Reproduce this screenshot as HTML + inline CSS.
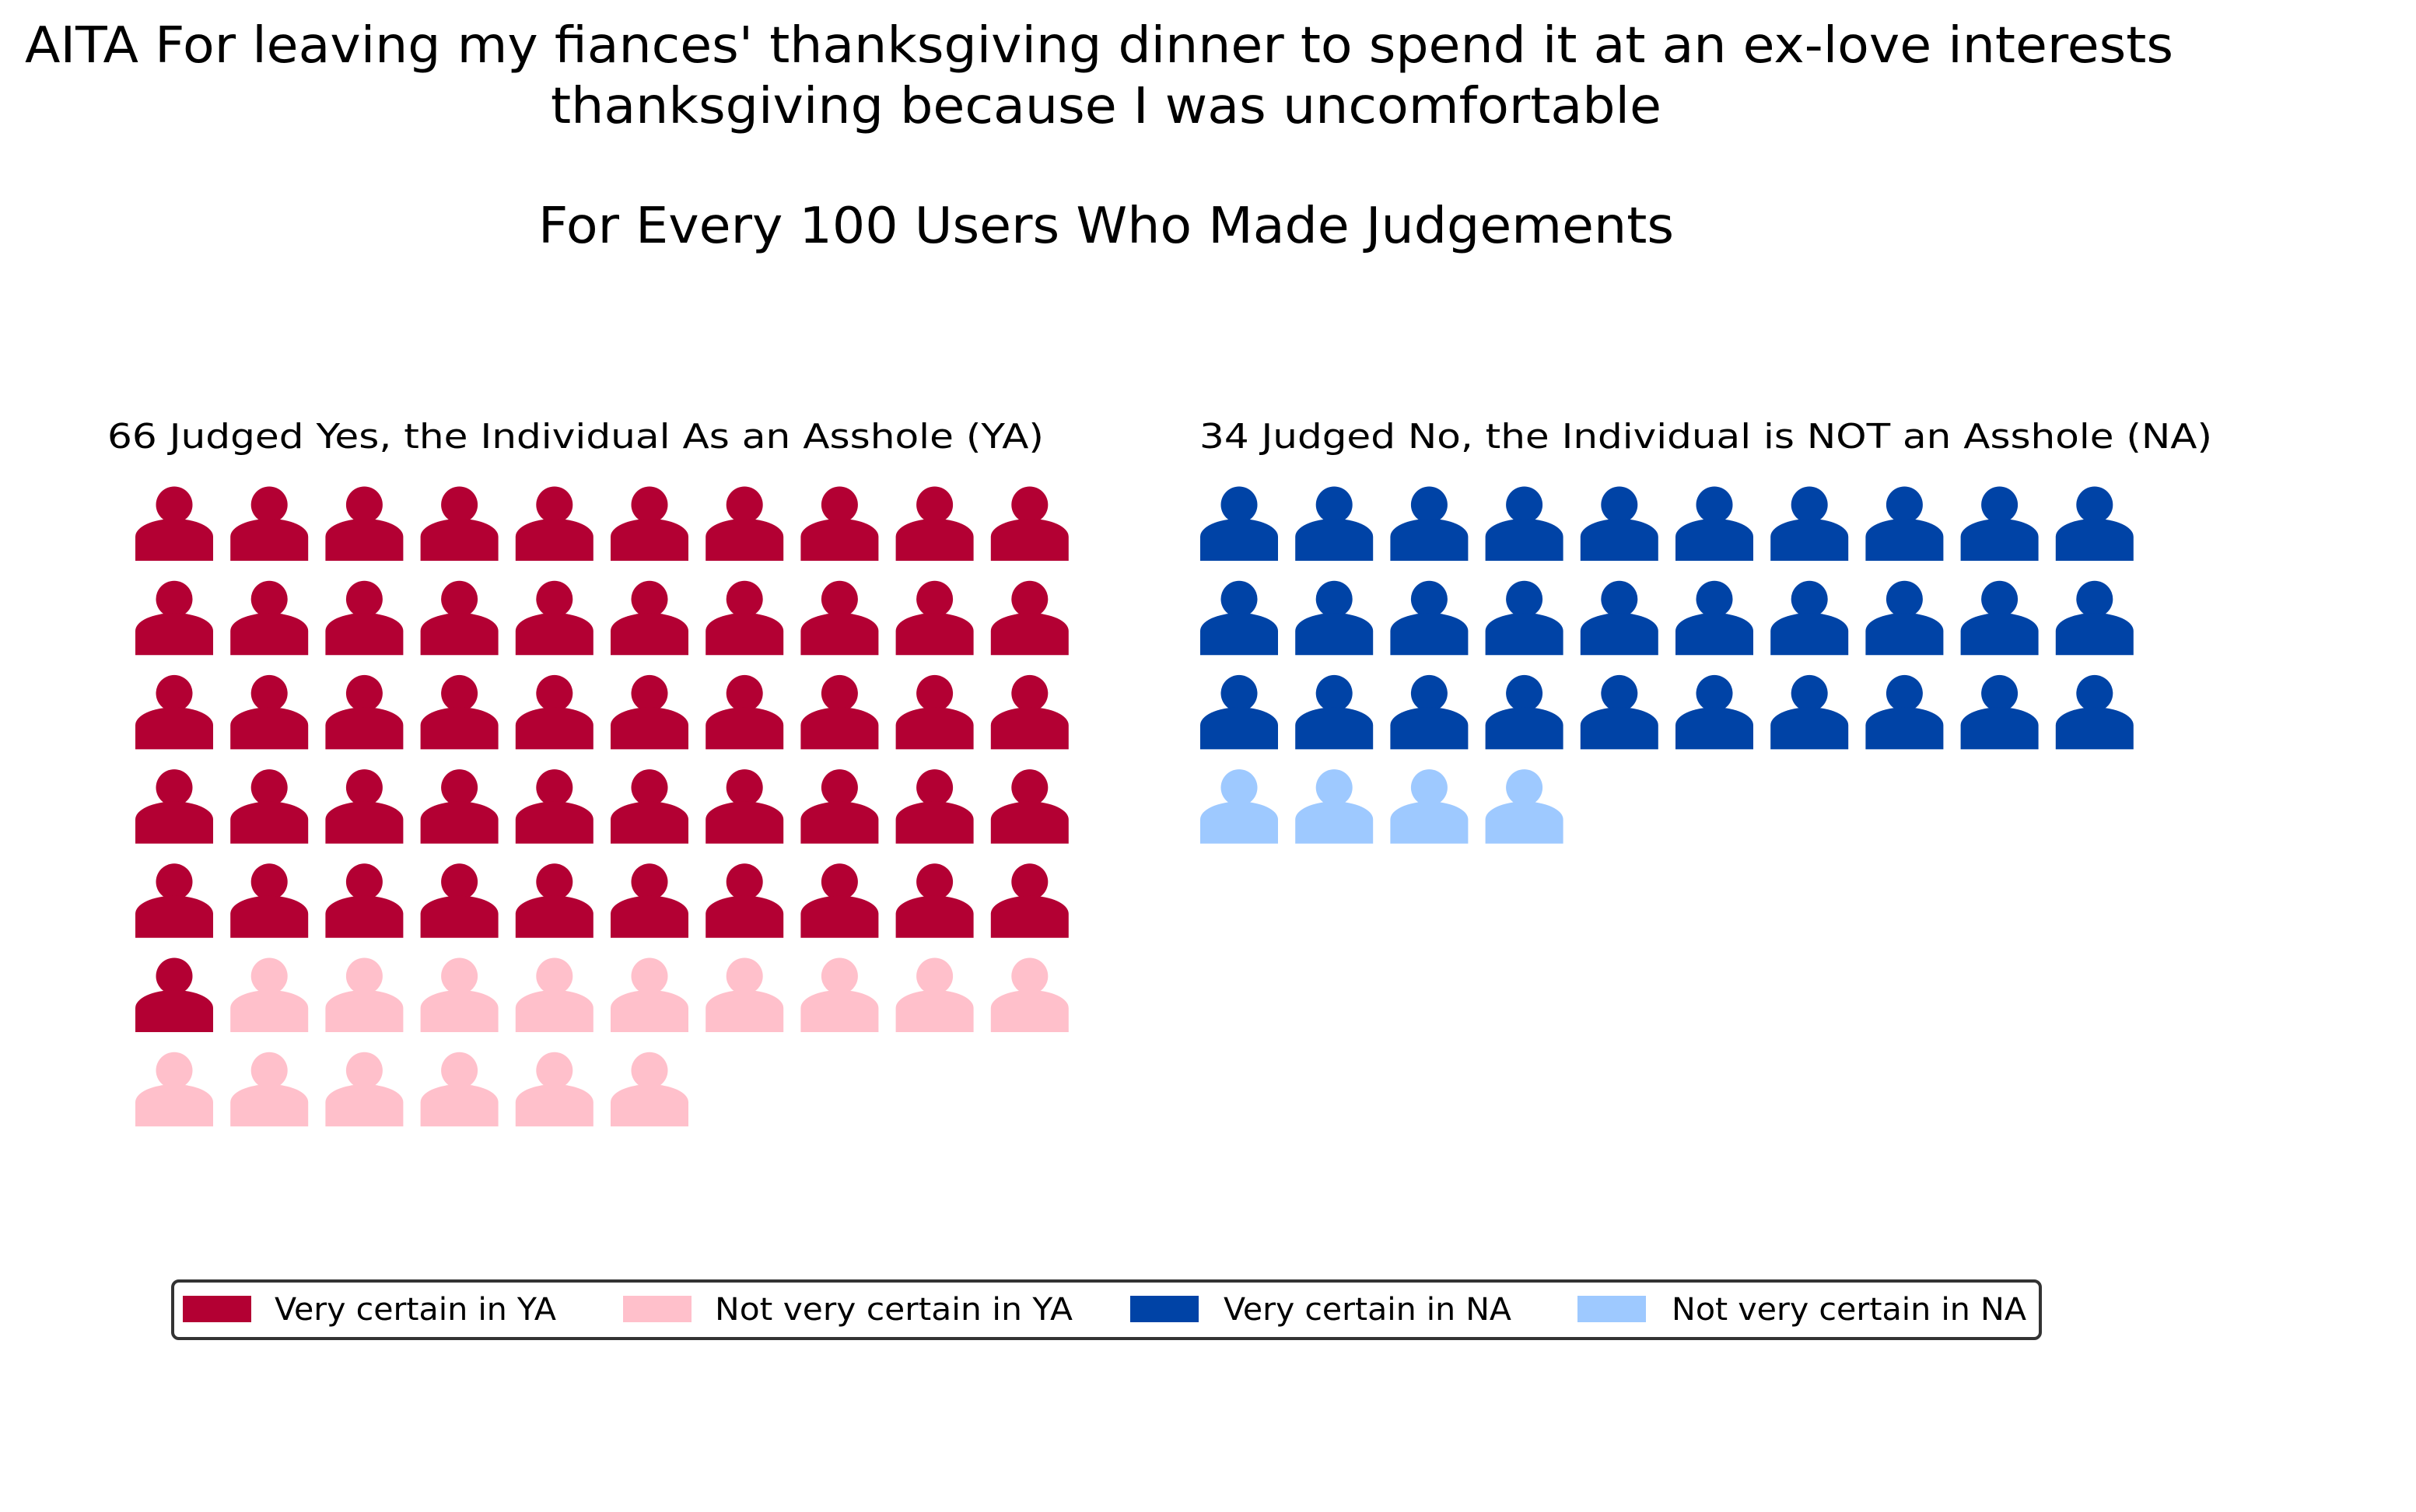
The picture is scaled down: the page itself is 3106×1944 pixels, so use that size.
<!DOCTYPE html>
<html><head><meta charset="utf-8"><style>
html,body{margin:0;padding:0;background:#fff;}
svg{display:block;font-family:"DejaVu Sans","Liberation Sans",sans-serif;}
</style></head><body>
<svg id="chart" width="3106" height="1944" viewBox="0 0 3106 1944" xmlns="http://www.w3.org/2000/svg">
<rect width="3106" height="1944" fill="#fff"/>
<text x="32" y="80" font-size="64" textLength="2762" lengthAdjust="spacingAndGlyphs">AITA For leaving my fiances' thanksgiving dinner to spend it at an ex-love interests</text>
<text x="708" y="158" font-size="64" textLength="1428" lengthAdjust="spacingAndGlyphs">thanksgiving because I was uncomfortable</text>
<text x="692" y="312" font-size="64" textLength="1460" lengthAdjust="spacingAndGlyphs">For Every 100 Users Who Made Judgements</text>
<text x="138" y="576" font-size="44" textLength="1204" lengthAdjust="spacingAndGlyphs">66 Judged Yes, the Individual As an Asshole (YA)</text>
<text x="1542" y="576" font-size="44" textLength="1302" lengthAdjust="spacingAndGlyphs">34 Judged No, the Individual is NOT an Asshole (NA)</text>
<g id="icons"></g>
<g>
<rect x="222" y="1647" width="2401" height="74" rx="8" fill="#fff" stroke="#333" stroke-width="4"/>
<rect x="235" y="1666" width="88" height="34" fill="#b30033"/>
<text x="353" y="1697" font-size="40" textLength="362" lengthAdjust="spacingAndGlyphs">Very certain in YA</text>
<rect x="801" y="1666" width="88" height="34" fill="#ffc0cb"/>
<text x="919" y="1697" font-size="40" textLength="460" lengthAdjust="spacingAndGlyphs">Not very certain in YA</text>
<rect x="1453" y="1666" width="88" height="34" fill="#0043a6"/>
<text x="1573" y="1697" font-size="40" textLength="370" lengthAdjust="spacingAndGlyphs">Very certain in NA</text>
<rect x="2028" y="1666" width="88" height="34" fill="#9ec9ff"/>
<text x="2149" y="1697" font-size="40" textLength="456" lengthAdjust="spacingAndGlyphs">Not very certain in NA</text>
</g>
</svg>
<script>
const panels = ["YA", "NA"];
const veryCertain = [51, 30];
const notVeryCertain = [15, 4];
const darkColors = ["#b30033", "#0043a6"];
const lightColors = ["#ffc0cb", "#9ec9ff"];

const panelX = [174, 1543];
const top0 = 626, dx = 122.2, dy = 121.2, cols = 10;
const g = document.getElementById('icons');
const NS = "http://www.w3.org/2000/svg";
function icon(x, y, color, name) {
  const grp = document.createElementNS(NS, 'g');
  
  
  grp.setAttribute('transform', `translate(${x},${y})`);
  const c = document.createElementNS(NS, 'circle');
  c.setAttribute('cx', 50); c.setAttribute('cy', 23); c.setAttribute('r', 23.5);
  c.setAttribute('fill', color);
  const p = document.createElementNS(NS, 'path');
  p.setAttribute('d', 'M0,95 L0,64 A50,23 0 0 1 100,64 L100,95 Z');
  p.setAttribute('fill', color);
  grp.appendChild(c); grp.appendChild(p);
  g.appendChild(grp);
}
panels.forEach((pn, pi) => {
  const total = veryCertain[pi] + notVeryCertain[pi];
  for (let i = 0; i < total; i++) {
    const col = i % cols, row = Math.floor(i / cols);
    const dark = i < veryCertain[pi];
    icon(panelX[pi] + col * dx, top0 + row * dy, dark ? darkColors[pi] : lightColors[pi],
      (dark ? 'very-certain-' : 'not-very-certain-') + pn.toLowerCase() + '-icon');
  }
});
</script>
</body></html>
